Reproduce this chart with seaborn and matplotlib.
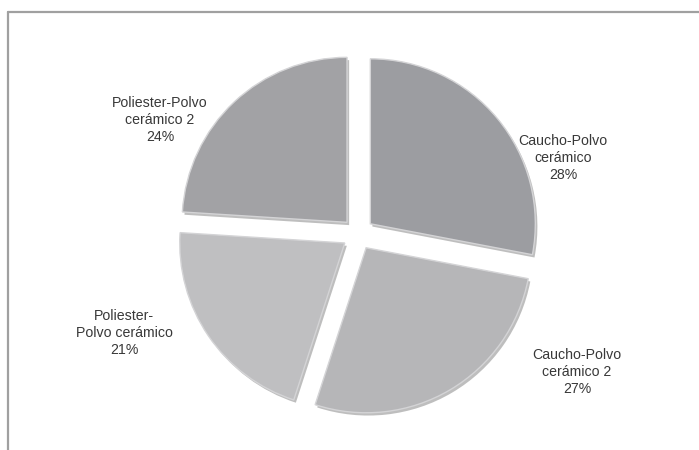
import matplotlib
matplotlib.use("Agg")
import matplotlib.pyplot as plt
import matplotlib.patheffects as pe
from matplotlib.lines import Line2D
import seaborn as sns

# ---- data ----
categories = ["Caucho-Polvo\ncerámico", "Caucho-Polvo\ncerámico 2",
              "Poliester-\nPolvo cerámico", "Poliester-Polvo\ncerámico 2"]
values = [28, 27, 21, 24]
slice_colors = ["#9c9da1", "#b6b6b8", "#bfbfc1", "#a2a2a5"]

sns.set_theme(style="white")
plt.rcParams["font.family"] = ["Liberation Sans", "DejaVu Sans"]

W, H = 699, 450
fig = plt.figure(figsize=(W / 100, H / 100), dpi=100)
fig.patch.set_facecolor("white")
ax = fig.add_axes([0, 0, 1, 1])

cx, cy, r = 358, H - 234, 165
# explode is in data units here (axes spans pixel coordinates)
wedges, _ = ax.pie(values, colors=slice_colors, startangle=90, counterclock=False,
                   explode=[16] * len(values), center=(cx, cy), radius=r,
                   wedgeprops=dict(edgecolor="#d4d4d6", linewidth=1.0))
for w in wedges:
    w.set_path_effects([pe.SimplePatchShadow(offset=(1.5, -2), shadow_rgbFace="#707070", alpha=0.45),
                        pe.Normal()])

ax.set_xlim(0, W)
ax.set_ylim(0, H)
ax.set_aspect("auto")
ax.axis("off")

total = sum(values)
label_pos = [(563, 158), (577, 372), (124, 333), (160, 120)]
for cat, v, (tx, ty) in zip(categories, values, label_pos):
    ax.text(tx, H - ty, f"{cat}\n{round(100 * v / total)}%", ha="center", va="center",
            fontsize=10.2, color="#383838", linespacing=1.25)

# chart frame (only top and left edges visible)
fx, fy = 7.5 / W, 1 - 12 / H
fig.add_artist(Line2D([fx, fx], [0, fy], transform=fig.transFigure, color="#a0a0a0", lw=1.6))
fig.add_artist(Line2D([fx, 1], [fy, fy], transform=fig.transFigure, color="#a0a0a0", lw=1.6))

fig.savefig("out.png", dpi=100)
